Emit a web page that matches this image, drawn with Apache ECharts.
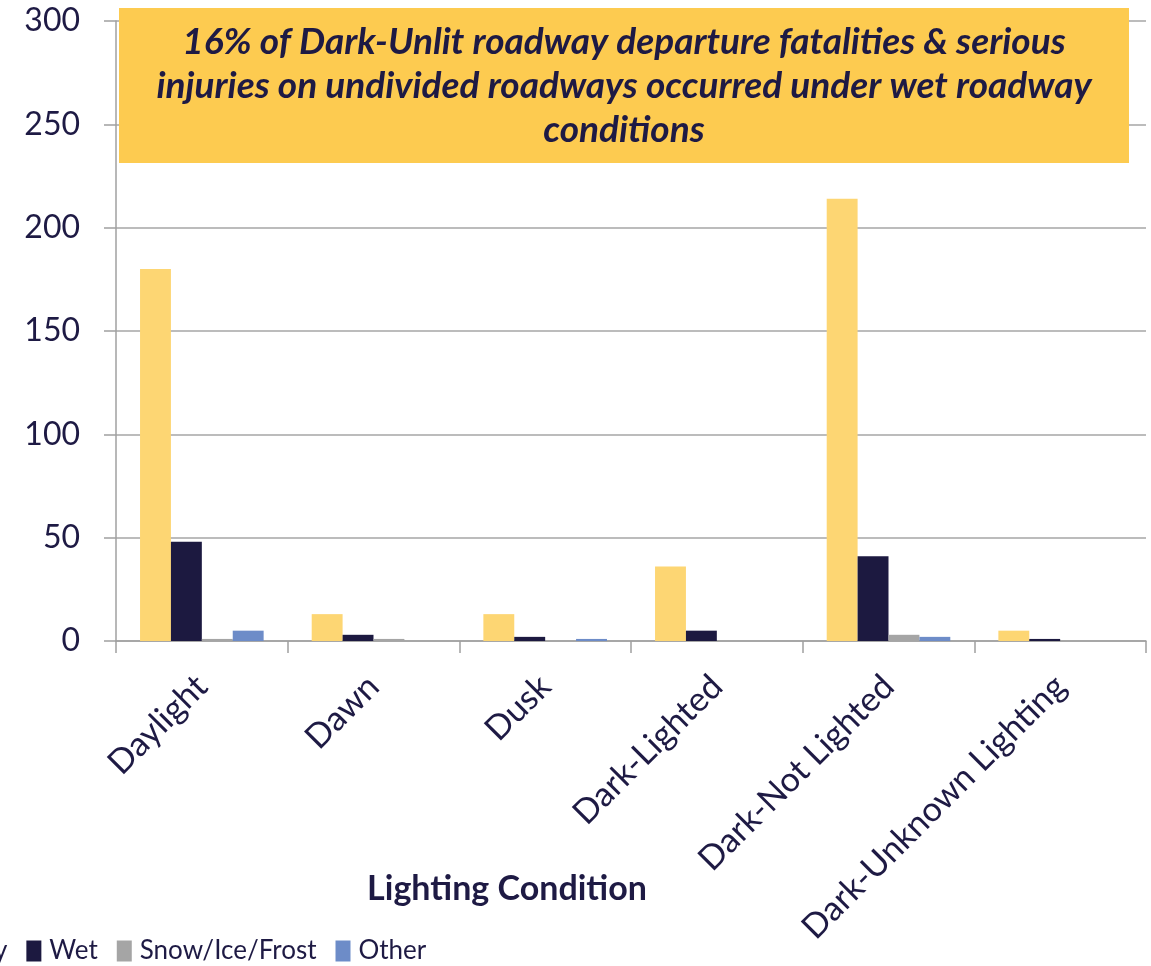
<!DOCTYPE html>
<html>
<head>
<meta charset="utf-8">
<script src="https://cdn.jsdelivr.net/npm/echarts@6/dist/echarts.min.js"></script>
<style>
html,body{margin:0;padding:0;background:#fff;}
#chart{width:1151px;height:966px;}
</style>
</head>
<body>
<div id="chart"></div>
<script>
var categories = ['Daylight', 'Dawn', 'Dusk', 'Dark-Lighted', 'Dark-Not Lighted', 'Dark-Unknown Lighting'];
var dryData = [180, 13, 13, 36, 214, 5];
var wetData = [48, 3, 2, 5, 41, 1];
var snowData = [1, 1, 0, 0, 3, 0];
var otherData = [5, 0, 1, 0, 2, 0];
var seriesNames = ['Dry', 'Wet', 'Snow/Ice/Frost', 'Other'];
var yTicks = [0, 50, 100, 150, 200, 250, 300];

var textColor = '#1E1A44';
var fontName = 'Lato';
var colorMap = {
	'Dry': '#FDD673',
	'Wet': '#1C1940',
	'Snow/Ice/Frost': '#A5A5A5',
	'Other': '#6D8CC8'
};

var chart = echarts.init(document.getElementById('chart'));
var allData = [dryData, wetData, snowData, otherData];
var series = [];
seriesNames.forEach(function (name, i) {
	series.push({
		name: name,
		type: 'bar',
		barGap: '0%',
		barCategoryGap: '28%',
		itemStyle: {color: colorMap[name]},
		data: allData[i]
	});
});

var option = {
	animation: false,
	textStyle: {fontFamily: fontName},
	grid: {left: 116, right: 5, top: 21, bottom: 325},
	legend: {
		data: seriesNames,
		left: -63,
		top: 933,
		itemWidth: 15,
		itemHeight: 21,
		itemGap: 19,
		icon: 'rect',
		textStyle: {fontSize: 26, color: textColor, fontFamily: fontName, padding: [0, 0, 0, 3]}
	},
	xAxis: {
		type: 'category',
		data: categories,
		axisLine: {lineStyle: {color: '#A0A0A0', width: 1.5}},
		axisTick: {show: true, length: 12, lineStyle: {color: '#A0A0A0', width: 1.5}},
		axisLabel: {rotate: 45, fontSize: 34, color: textColor, margin: 40, interval: 0}
	},
	yAxis: {
		type: 'value',
		min: yTicks[0],
		max: yTicks[yTicks.length - 1],
		interval: 50,
		axisLine: {show: true, lineStyle: {color: '#A0A0A0', width: 1.5}},
		axisTick: {show: true, length: 12, lineStyle: {color: '#A0A0A0', width: 1.5}},
		splitLine: {lineStyle: {color: '#A6A6A6', width: 1.5}},
		axisLabel: {fontSize: 32, color: textColor, margin: 36}
	},
	graphic: [
		{
			type: 'rect',
			shape: {x: 119, y: 8, width: 1010, height: 155},
			style: {fill: '#FDCB50'},
			z: 10
		},
		{
			type: 'text',
			x: 624,
			y: 86,
			z: 11,
			style: {
				text: '16% of Dark-Unlit roadway departure fatalities & serious\ninjuries on undivided roadways occurred under wet roadway\nconditions',
				fill: textColor,
				font: 'italic bold 37px ' + fontName,
				lineHeight: 44,
				align: 'center',
				verticalAlign: 'middle'
			}
		},
		{
			type: 'text',
			x: 507,
			y: 889,
			style: {
				text: 'Lighting Condition',
				fill: textColor,
				font: 'bold 34px ' + fontName,
				align: 'center',
				verticalAlign: 'middle'
			}
		}
	],
	series: series
};
chart.setOption(option);
</script>
</body>
</html>
